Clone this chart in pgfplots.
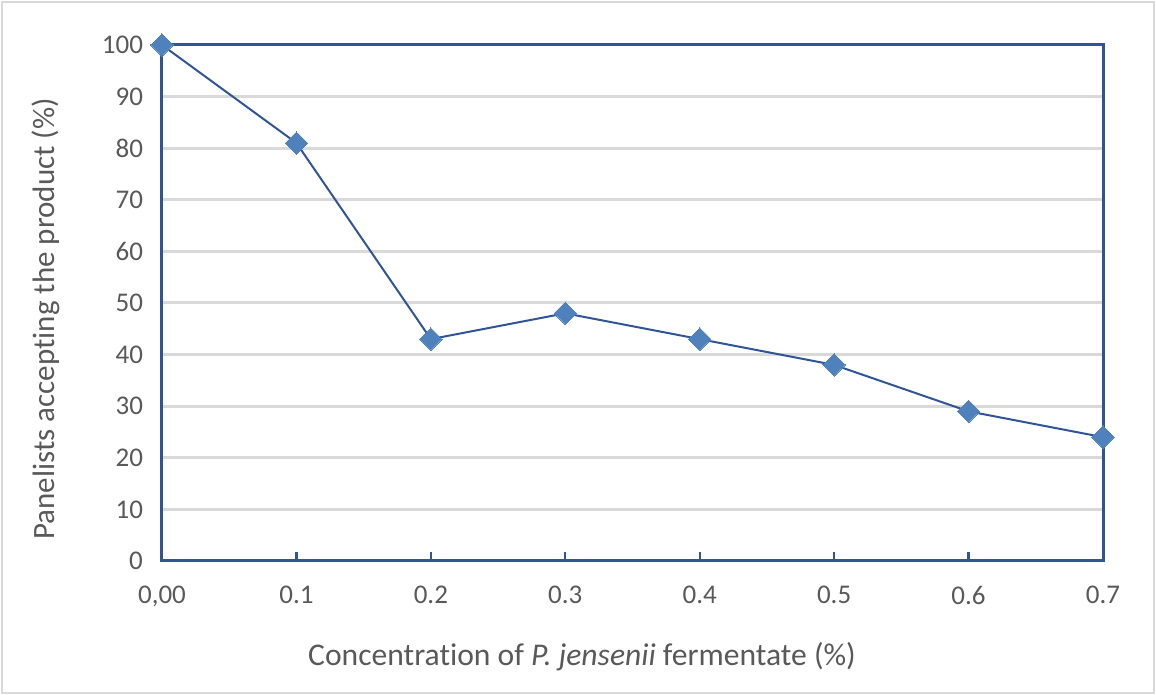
\documentclass[border=0pt]{standalone}
\usepackage{pgfplots}
\pgfplotsset{compat=1.18}
\usepackage{fontspec}
\setmainfont{Carlito}[Ligatures=NoCommon]
\definecolor{axblue}{HTML}{2F5597}
\definecolor{mkblue}{HTML}{4F81BD}
\definecolor{txt}{HTML}{595959}
\definecolor{grd}{HTML}{D9D9D9}
\begin{document}
\begin{tikzpicture}[x=1pt,y=1pt]
\useasboundingbox (-81,-67) rectangle (497,280.5);
\draw[grd, line width=1pt] (-80,-66) rectangle (496,279.5);
\begin{axis}[
    at={(0,0)}, anchor=origin,
    scale only axis, width=470.5pt, height=258pt,
    xmin=0, xmax=0.7, ymin=0, ymax=100,
    xtick={0,0.1,0.2,0.3,0.4,0.5,0.6,0.7},
    xticklabels={{0,00},0.1,0.2,0.3,0.4,0.5,0.6,0.7},
    ytick={0,10,...,100},
    ymajorgrids, grid style={grd, line width=1.5pt},
    axis line style={axblue, line width=1.5pt},
    xtick style={axblue, line width=1.2pt},
    ytick style={draw=none},
    major tick length=4.5pt,
    tick align=inside, xtick pos=bottom, ytick pos=left,
    ticklabel style={font=\fontsize{13.5}{16}\selectfont, text=txt},
    /pgf/number format/assume math mode=true,
    xticklabel style={yshift=-9pt},
    yticklabel style={xshift=-6pt},
    clip=false,
]
\addplot[axblue, line width=1pt, mark=diamond*, mark size=5.6pt,
    mark options={fill=mkblue, draw=mkblue, line width=0pt, xscale=1.33}]
    coordinates {(0,100)(0.1,81)(0.2,43)(0.3,48)(0.4,43)(0.5,38)(0.6,29)(0.7,24)};
\end{axis}
\node[text=txt, font=\fontsize{15.8}{18}\selectfont] at (210,-48)
    {Concentration of \textit{P. jensenii} fermentate (\%)};
\node[text=txt, font=\fontsize{15.5}{18}\selectfont, rotate=90] at (-58,121)
    {Panelists accepting the product (\%)};
\end{tikzpicture}
\end{document}
